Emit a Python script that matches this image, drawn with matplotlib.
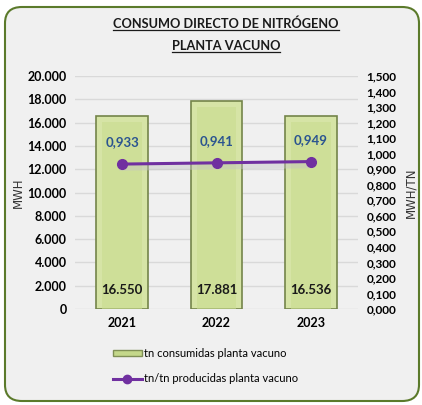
import matplotlib.pyplot as plt
from matplotlib.patches import FancyBboxPatch
from matplotlib.lines import Line2D
from matplotlib.ticker import FuncFormatter
import numpy as np

# Data
years = ['2021', '2022', '2023']
consumed = [16550, 17881, 16536]
ratio = [0.933, 0.941, 0.949]
bar_label = 'tn consumidas planta vacuno'
line_label = 'tn/tn producidas planta vacuno'
title_lines = ['CONSUMO DIRECTO DE NITRÓGENO', 'PLANTA VACUNO']

plt.rcParams['font.family'] = ['Lato', 'DejaVu Sans']

fig = plt.figure(figsize=(4.22, 4.05), dpi=100)
fig.patch.set_facecolor('white')

# rounded frame
frame = FancyBboxPatch((5 / 422, 4 / 405), 414 / 422, 394 / 405,
                       boxstyle='round,pad=0,rounding_size=0.04',
                       transform=fig.transFigure, facecolor='#f0f0f0',
                       edgecolor='#5b7a2b', linewidth=1.5, zorder=-10)
fig.patches.append(frame)

ax = fig.add_axes([75 / 422, 1 - 309 / 405, 283 / 422, 233 / 405])
ax.set_facecolor('none')
x = np.arange(len(years))

ax.bar(x, consumed, width=0.55, color='#d6e4a6', edgecolor='#74844a',
       linewidth=1.2, zorder=2)
ax.bar(x, np.array(consumed) - 500, width=0.42, color='#c9dc90', edgecolor='none',
       zorder=2, alpha=0.6)
ax.set_ylim(0, 20000)
ax.set_xlim(-0.5, 2.5)
ax.set_yticks(np.arange(0, 20001, 2000))
ax.yaxis.set_major_formatter(FuncFormatter(lambda v, p: f'{int(v):,}'.replace(',', '.')))
ax.grid(axis='y', color='#d9d9d9', linewidth=1, zorder=0)
ax.set_axisbelow(True)
for s in ax.spines.values():
    s.set_visible(False)
ax.tick_params(length=0, labelsize=9, pad=6)
for t in ax.get_yticklabels():
    t.set_fontweight('bold')
ax.set_xticks(x)
ax.set_xticklabels(years, fontweight='bold', fontsize=9)
ax.set_ylabel('MWH', fontsize=8.5, color='#333333', family='DejaVu Sans', labelpad=2)

for xi, v in zip(x, consumed):
    ax.text(xi, 1600, f'{v:,}'.replace(',', '.'), ha='center', va='center',
            fontsize=9.5, fontweight='bold', color='#1a1a1a', zorder=5)

ax2 = ax.twinx()
ax2.set_position(ax.get_position())
ax2.set_ylim(0, 1.5)
ax2.set_yticks(np.round(np.arange(0, 1.5001, 0.1), 1))
ax2.yaxis.set_major_formatter(FuncFormatter(lambda v, p: f'{v:.3f}'.replace('.', ',')))
for s in ax2.spines.values():
    s.set_visible(False)
ax2.tick_params(length=0, labelsize=8.5, pad=6)
for t in ax2.get_yticklabels():
    t.set_fontweight('bold')
ax2.set_ylabel('MWH/TN', fontsize=8.5, color='#333333', family='DejaVu Sans',
               rotation=90, labelpad=6)

# soft shadow under the line
ax2.plot(x, np.array(ratio) - 0.025, color='#c4c4c4', linewidth=4, alpha=0.45, zorder=3)
ax2.plot(x, ratio, color='#7030a0', linewidth=2.2, marker='o', markersize=7, zorder=4)
for xi, v in zip(x, ratio):
    ax2.text(xi, v + 0.14, f'{v:.3f}'.replace('.', ','), ha='center', va='center',
             fontsize=9.5, fontweight='bold', color='#2a5490', zorder=5)

# title with underline
fig.canvas.draw()
renderer = fig.canvas.get_renderer()
for line, yy in zip(title_lines, [24, 46]):
    t = fig.text(0.535, 1 - yy / 405, line, ha='center', va='center',
                 fontsize=9.2, fontweight='bold', color='#1a1a1a')
    bb = t.get_window_extent(renderer=renderer).transformed(fig.transFigure.inverted())
    fig.lines.append(Line2D([bb.x0, bb.x1], [bb.y0 + 0.001, bb.y0 + 0.001],
                            transform=fig.transFigure, color='#1a1a1a', linewidth=0.9))

# legend
bar_handle = plt.Rectangle((0, 0), 1, 1, facecolor='#c4d88a', edgecolor='#7f8f55')
line_handle = Line2D([], [], color='#7030a0', linewidth=2.2, marker='o', markersize=6)
leg = fig.legend([bar_handle, line_handle], [bar_label, line_label],
                 loc='upper left', bbox_to_anchor=(103 / 422, 1 - 338 / 405),
                 frameon=False, fontsize=8, handlelength=2.6, handletextpad=0.2,
                 labelspacing=1.3, handleheight=0.45)

fig.savefig('out.png', dpi=100)
